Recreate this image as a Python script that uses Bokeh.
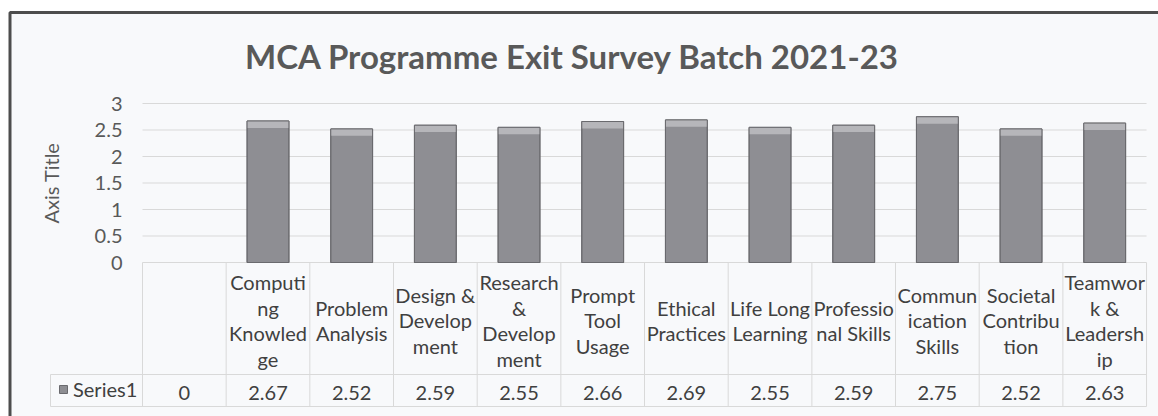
from bokeh.plotting import figure
from bokeh.models import (Range1d, FixedTicker, ColumnDataSource, BoxAnnotation, LinearAxis,
                          Legend, LegendItem, NumeralTickFormatter)
from bokeh.core.properties import value
from bokeh.embed import file_html
from bokeh.resources import INLINE

# ---------------- data ----------------
title_text = "MCA Programme Exit Survey  Batch 2021-23"
series_name = "Series1"
y_axis_title = "Axis Title"
categories = ["", "Computing Knowledge", "Problem Analysis", "Design & Development",
              "Research & Development", "Prompt Tool Usage", "Ethical Practices",
              "Life Long Learning", "Professional Skills", "Communication Skills",
              "Societal Contribution", "Teamwork & Leadership"]
category_labels = ["", "Computi\nng\nKnowled\nge", "Problem\nAnalysis", "Design &\nDevelop\nment",
                   "Research\n&\nDevelop\nment", "Prompt\nTool\nUsage", "Ethical\nPractices",
                   "Life Long\nLearning", "Professio\nnal Skills", "Commun\nication\nSkills",
                   "Societal\nContribu\ntion", "Teamwor\nk &\nLeadersh\nip"]
values = [0, 2.67, 2.52, 2.59, 2.55, 2.66, 2.69, 2.55, 2.59, 2.75, 2.52, 2.63]
value_labels = ["0", "2.67", "2.52", "2.59", "2.55", "2.66", "2.69", "2.55", "2.59", "2.75", "2.52", "2.63"]
y_ticks = [0, 0.5, 1, 1.5, 2, 2.5, 3]

# ---------------- layout helpers (page pixels -> data) ----------------
W, H = 1158, 416
PLOT_LEFT = 142           # page x where the first category slot starts
ZERO_ROW = 262            # page y of value 0
PX_X = 83.67              # pixels per category slot
PX_Y = 53.0               # pixels per value unit


def px(page_x):
    return (page_x - PLOT_LEFT) / PX_X


def py(page_y):
    return (ZERO_ROW - page_y) / PX_Y


BG = "#f8f9fb"
TXT = "#404040"
AX = "#595959"
GRID = "#d9d9d9"
FONT = "Lato"

p = figure(width=W, height=H, x_range=Range1d(px(0), px(W)), y_range=Range1d(py(H), py(0)),
           output_backend="svg", toolbar_location=None,
           x_axis_location=None, y_axis_location=None,
           min_border_left=0, min_border_right=0, min_border_top=0, min_border_bottom=0)
p.background_fill_color = "#ffffff"
p.border_fill_color = "#ffffff"
p.outline_line_color = None
p.xgrid.grid_line_color = None
p.ygrid.grid_line_color = None

# chart area (tinted) with its dark outer border
p.add_layout(BoxAnnotation(left=px(9.5), right=px(1300), top=py(12), bottom=py(600),
                           fill_color=BG, fill_alpha=1, line_color="#4d4d4d", line_width=3,
                           line_alpha=1, level="underlay"))

# y axis placed at the start of the plot area
ax = LinearAxis(fixed_location=0, ticker=FixedTicker(ticks=y_ticks),
                formatter=NumeralTickFormatter(format="0.[0]"),
                bounds=(min(y_ticks), max(y_ticks)))
ax.axis_line_color = None
ax.major_tick_line_color = None
ax.minor_tick_line_color = None
ax.major_tick_out = 0
ax.major_tick_in = 0
ax.major_label_standoff = 20
ax.major_label_text_font = FONT
ax.major_label_text_font_size = "20px"
ax.major_label_text_color = AX
ax.axis_label = y_axis_title
ax.axis_label_text_font = FONT
ax.axis_label_text_font_style = "normal"
ax.axis_label_text_font_size = "20px"
ax.axis_label_text_color = AX
ax.axis_label_standoff = 29
p.add_layout(ax, "left")

n = len(categories)

# horizontal gridlines over the plot area
p.segment(x0=[0] * len(y_ticks), x1=[n] * len(y_ticks), y0=y_ticks, y1=y_ticks,
          line_color=GRID, line_width=1)

src = ColumnDataSource(dict(
    x=[i + 0.5 for i in range(n)],
    top=values,
    hl=[v - 0.13 if v > 0 else 0 for v in values],
    lalpha=[1 if v > 0 else 0 for v in values],
    cat=category_labels,
    lab=value_labels,
))

# data-table lines
bounds = list(range(n + 1))
p.segment(x0=bounds, x1=bounds, y0=[0] * len(bounds), y1=[py(406)] * len(bounds),
          line_color=GRID, line_width=1)
p.segment(x0=[px(50), px(50)], x1=[n, n], y0=[py(374), py(406)], y1=[py(374), py(406)],
          line_color=GRID, line_width=1)
p.segment(x0=[px(50)], x1=[px(50)], y0=[py(374)], y1=[py(406)], line_color=GRID, line_width=1)

# bars
bars = p.vbar(x="x", top="top", bottom=0, width=0.5, source=src,
              fill_color="#8e8e93", line_color="#6a6a6e", line_alpha="lalpha", line_width=1)
p.vbar(x="x", top="top", bottom="hl", width=0.5, source=src,
       fill_color="#b6b6ba", line_color=None)
p.vbar(x="x", top="top", bottom=0, width=0.5, source=src,
       fill_color=None, line_color="#6a6a6e", line_alpha="lalpha", line_width=1)

# data-table texts
p.text(x="x", y=py(320), text="cat", source=src, text_align="center", text_baseline="middle",
       text_font=value(FONT), text_font_size="20px", text_color=TXT, text_line_height=1.06)
p.text(x="x", y=py(392), text="lab", source=src, text_align="center", text_baseline="middle",
       text_font=value(FONT), text_font_size="20px", text_color=TXT)

# title
p.text(x=[px(576)], y=[py(55)], text=[title_text], text_align="center", text_baseline="middle",
       text_font=value(FONT), text_font_style="bold", text_font_size="33px", text_color=AX)

# series key of the data table
legend = Legend(items=[LegendItem(label=series_name, renderers=[bars], index=1)],
                location=(58, 15), orientation="vertical",
                background_fill_alpha=0, border_line_color=None, padding=0, margin=0,
                glyph_width=10, glyph_height=10, label_standoff=5, label_height=20,
                label_text_font=FONT, label_text_font_size="20px", label_text_color=TXT)
p.add_layout(legend)

open("out.html", "w").write(file_html(p, INLINE))
